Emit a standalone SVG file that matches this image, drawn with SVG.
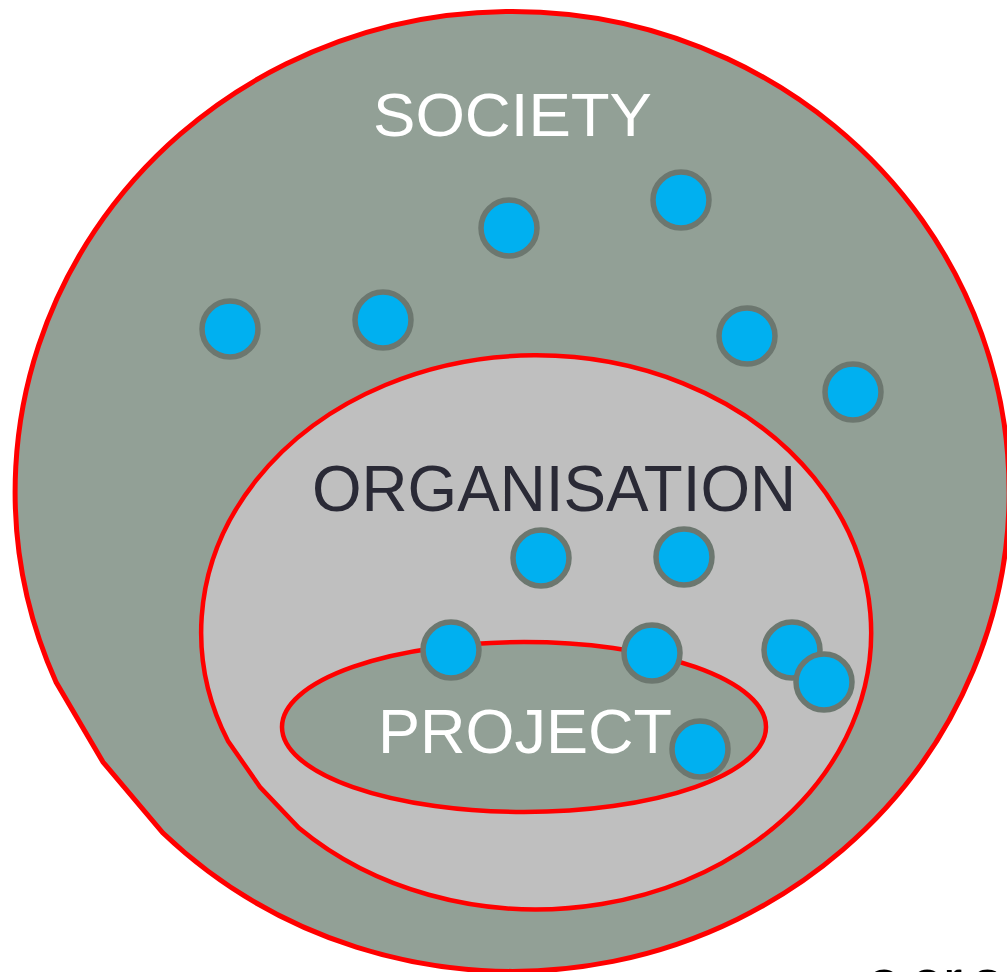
<svg xmlns="http://www.w3.org/2000/svg" width="1007" height="972" viewBox="0 0 1007 972">
<style>
.ring{stroke:#FF0000;stroke-linejoin:miter}
.green{fill:#92A096}
.grey{fill:#BFBFBF}
.dot{fill:#00B0F0;stroke:#6C776F;stroke-width:5.5}
.lbl{font-family:"Liberation Sans",Arial,sans-serif}
</style>
<rect width="1007" height="972" fill="#FFFFFF"/>
<g id="society">
<path class="ring green" stroke-width="5" d="M56,682 A497,480 0 1 1 163,833 L103,762 Z"/>
<text class="lbl" x="373" y="136" font-size="62" fill="#FFFFFF" textLength="279" lengthAdjust="spacingAndGlyphs">SOCIETY</text>
</g>
<g id="organisation">
<path class="ring grey" stroke-width="4.5" d="M228,741 A335,277 0 1 1 299,828 L260,787 Z"/>
<text class="lbl" x="312" y="511" font-size="64" fill="#2A2A36" textLength="484" lengthAdjust="spacingAndGlyphs">ORGANISATION</text>
</g>
<g id="project">
<ellipse class="ring green" stroke-width="4.5" cx="524" cy="727" rx="242" ry="85"/>
<text class="lbl" x="378" y="753" font-size="63" fill="#FFFFFF">PROJECT</text>
</g>
<g id="members">
<circle id="m1" class="dot" cx="509" cy="228" r="28"/>
<circle id="m2" class="dot" cx="681" cy="200" r="28"/>
<circle id="m3" class="dot" cx="230" cy="329" r="28"/>
<circle id="m4" class="dot" cx="383" cy="320" r="28"/>
<circle id="m5" class="dot" cx="747" cy="336" r="28"/>
<circle id="m6" class="dot" cx="853" cy="392" r="28"/>
<circle id="m7" class="dot" cx="541" cy="558" r="28"/>
<circle id="m8" class="dot" cx="684" cy="557" r="28"/>
<circle id="m9" class="dot" cx="451" cy="650" r="28"/>
<circle id="m10" class="dot" cx="652" cy="653" r="28"/>
<circle id="m11" class="dot" cx="792" cy="650" r="28"/>
<circle id="m12" class="dot" cx="824" cy="682" r="28"/>
<circle id="m13" class="dot" cx="700" cy="749" r="28"/>
</g>
<g id="connectors"/>
<text class="lbl" x="868 911 943 973" y="1000" font-size="58" fill="#000000">aers</text>
</svg>
